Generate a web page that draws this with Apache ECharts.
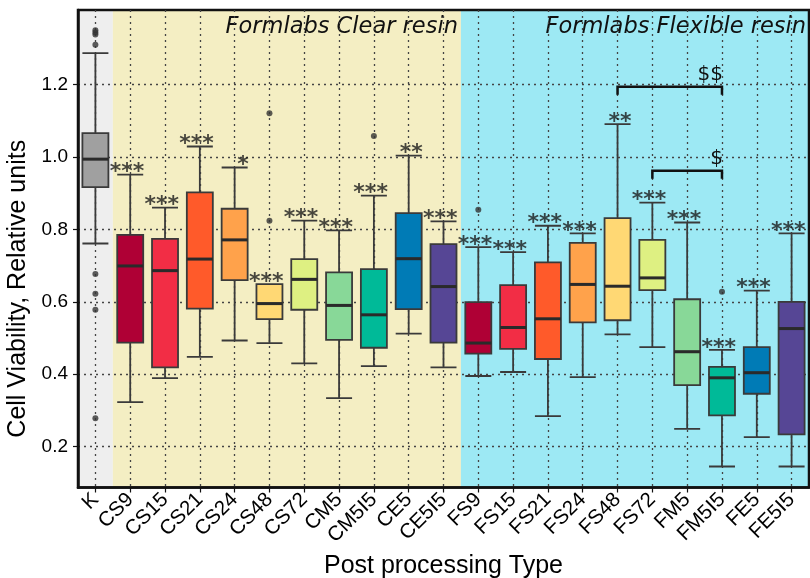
<!DOCTYPE html>
<html><head><meta charset="utf-8">
<script src="https://cdn.jsdelivr.net/npm/echarts@6/dist/echarts.min.js"></script>
<style>html,body{margin:0;padding:0;background:#fff}#c{width:810px;height:578px}</style>
</head><body><div id="c"></div>
<script>
const categories = ['K','CS9','CS15','CS21','CS24','CS48','CS72','CM5','CM5I5','CE5','CE5I5','FS9','FS15','FS21','FS24','FS48','FS72','FM5','FM5I5','FE5','FE5I5'];
const lowerWhisker = [0.761,0.323,0.389,0.448,0.493,0.486,0.430,0.334,0.422,0.512,0.419,0.395,0.406,0.284,0.392,0.510,0.475,0.249,0.145,0.226,0.145];
const q1           = [0.917,0.487,0.419,0.581,0.660,0.552,0.578,0.495,0.473,0.580,0.487,0.457,0.470,0.442,0.543,0.549,0.632,0.370,0.286,0.346,0.234];
const median       = [0.994,0.699,0.686,0.718,0.771,0.595,0.662,0.590,0.564,0.719,0.642,0.486,0.529,0.553,0.648,0.643,0.666,0.462,0.390,0.404,0.526];
const q3           = [1.066,0.785,0.774,0.902,0.857,0.649,0.718,0.681,0.690,0.845,0.759,0.599,0.646,0.709,0.763,0.831,0.771,0.607,0.420,0.475,0.600];
const upperWhisker = [1.287,0.951,0.860,1.029,0.971,0.649,0.824,0.797,0.893,1.004,0.822,0.751,0.737,0.810,0.789,1.091,0.874,0.819,0.467,0.631,0.789];
const boxColors = ['#A0A0A0',
  '#AF0035','#F22D45','#FF5A2A','#FFA24B','#FFD874','#DEF082','#88D898','#00BA98','#007BB6','#564695',
  '#AF0035','#F22D45','#FF5A2A','#FFA24B','#FFD874','#DEF082','#88D898','#00BA98','#007BB6','#564695'];
const significance = ['','***','***','***','*','***','***','***','***','**','***','***','***','***','***','**','***','***','***','***','***'];
const outlierCats   = ['K','K','K','K','K','K','K','K','CS48','CS48','CM5I5','FS9','FM5I5'];
const outlierValues = [1.350,1.344,1.338,1.310,0.677,0.622,0.578,0.278,1.121,0.824,1.058,0.854,0.628];
const yTicks = [0.2,0.4,0.6,0.8,1.0,1.2];
const regionNames  = ['', 'Formlabs Clear resin', 'Formlabs Flexible resin'];
const regionFrom   = ['K','CS9','FS9'];
const regionTo     = ['K','CE5I5','FE5I5'];
const regionColors = ['#EEEEEE','#F4EEC3','#9DE9F4'];
const bracketFrom  = ['FS48','FS72'];
const bracketTo    = ['FM5I5','FM5I5'];
const bracketValue = [1.194, 0.962];
const bracketText  = ['$$','$'];

const idx = c => categories.indexOf(c);
const chart = echarts.init(document.getElementById('c'), null, {renderer:'canvas'});

const boxData = categories.map((c,i)=>({
  value:[lowerWhisker[i],q1[i],median[i],q3[i],upperWhisker[i]],
  itemStyle:{color:boxColors[i]}
}));

const option = {
  animation:false,
  backgroundColor:'#fff',
  grid:{left:78, top:10, width:731, height:477.5, containLabel:false, outerBoundsMode:'none',
        show:true, borderColor:'#111', borderWidth:2.5, backgroundColor:'transparent'},
  xAxis:[{
    type:'category', data:categories, boundaryGap:true,
    axisLine:{show:true, onZero:false, lineStyle:{color:'#111', width:2.5}},
    axisTick:{show:true, alignWithLabel:true, length:5, lineStyle:{color:'#111', width:1.2}},
    axisLabel:{interval:0, rotate:45, fontSize:20.5, color:'#000', fontFamily:'Liberation Sans', margin:9},
    splitLine:{show:false},
    name:'Post processing Type', nameLocation:'middle', nameGap:58,
    nameTextStyle:{fontSize:25, color:'#000', fontFamily:'Liberation Sans'}
  },{
    type:'value', min:-0.5, max:categories.length-0.5, show:true, position:'bottom',
    axisLine:{show:false, onZero:false}, axisLabel:{show:false},
    axisTick:{show:false, customValues:categories.map((c,i)=>i)},
    splitLine:{show:true, lineStyle:{color:'#444', width:1.3, type:[2,4]}}
  }],
  yAxis:{
    type:'value', min:0.087, max:1.406,
    axisLine:{show:true, onZero:false, lineStyle:{color:'#111', width:2.5}},
    axisTick:{show:true, length:5, customValues:yTicks, lineStyle:{color:'#111', width:1.2}},
    axisLabel:{customValues:yTicks, formatter:v=>v.toFixed(1), fontSize:19, color:'#000', fontFamily:'Liberation Sans', margin:10},
    splitLine:{show:true, lineStyle:{color:'#444', width:1.3, type:[2,4]}},
    name:'Cell Viability, Relative units', nameLocation:'middle', nameGap:44, nameRotate:90,
    nameTextStyle:{fontSize:25, color:'#000', fontFamily:'Liberation Sans', padding:[0,80,0,0]}
  },
  series:[
    {
      type:'custom', xAxisIndex:1, z:-1, silent:true,
      data: regionNames.map((n,i)=>[idx(regionFrom[i]), idx(regionTo[i]), i]),
      renderItem:(params, api)=>{
        const cs = params.coordSys;
        const x0 = api.coord([api.value(0)-0.5, 0.5])[0];
        const x1 = api.coord([api.value(1)+0.5, 0.5])[0];
        const k = api.value(2);
        return {type:'group', children:[
          {type:'rect', shape:{x:x0, y:cs.y, width:x1-x0, height:cs.height}, style:{fill:regionColors[k]}},
          {type:'text', z2:10, style:{text:regionNames[k], x:x1-3, y:cs.y+17, align:'right', verticalAlign:'middle',
            font:'italic 22.5px "DejaVu Sans"', fill:'#111'}}
        ]};
      }
    },
    {
      type:'boxplot', data:boxData, boxWidth:[26,26],
      itemStyle:{borderColor:'#3a3a3a', borderWidth:1.8}
    },
    {
      type:'custom', silent:true, z:4,
      data: categories.map((c,i)=>[i, median[i]]),
      renderItem:(params, api)=>{
        const p = api.coord([api.value(0), api.value(1)]);
        return {type:'line', shape:{x1:p[0]-13, y1:p[1], x2:p[0]+13, y2:p[1]}, style:{stroke:'#2a2a2a', lineWidth:3}};
      }
    },
    {
      type:'scatter', symbolSize:6, itemStyle:{color:'#333'}, z:5,
      data: outlierCats.map((c,i)=>[idx(c), outlierValues[i]])
    },
    {
      type:'scatter', symbolSize:0, z:6, silent:true,
      data: categories.map((c,i)=>[i, upperWhisker[i]]),
      label:{show:true, position:[14,-2], align:'right', verticalAlign:'middle',
        formatter:p=>significance[p.dataIndex], fontSize:22, fontWeight:'bold', fontFamily:'DejaVu Sans', color:'#1a1a1a'}
    },
    {
      type:'custom', silent:true, z:6,
      data: bracketText.map((t,i)=>[idx(bracketFrom[i]), idx(bracketTo[i]), bracketValue[i], i]),
      renderItem:(params, api)=>{
        const a = api.coord([api.value(0), api.value(2)]);
        const b = api.coord([api.value(1), api.value(2)]);
        const k = api.value(3);
        return {type:'group', children:[
          {type:'polyline', shape:{points:[[a[0],a[1]+8],[a[0],a[1]],[b[0],b[1]],[b[0],b[1]+8]]},
           style:{stroke:'#111', lineWidth:2.5, fill:null}},
          {type:'text', style:{text:bracketText[k], x:b[0]+1, y:b[1]-2, align:'right', verticalAlign:'bottom',
            font:'20px "DejaVu Sans"', fill:'#111'}}
        ]};
      }
    }
  ]
};
chart.setOption(option);
</script></body></html>
